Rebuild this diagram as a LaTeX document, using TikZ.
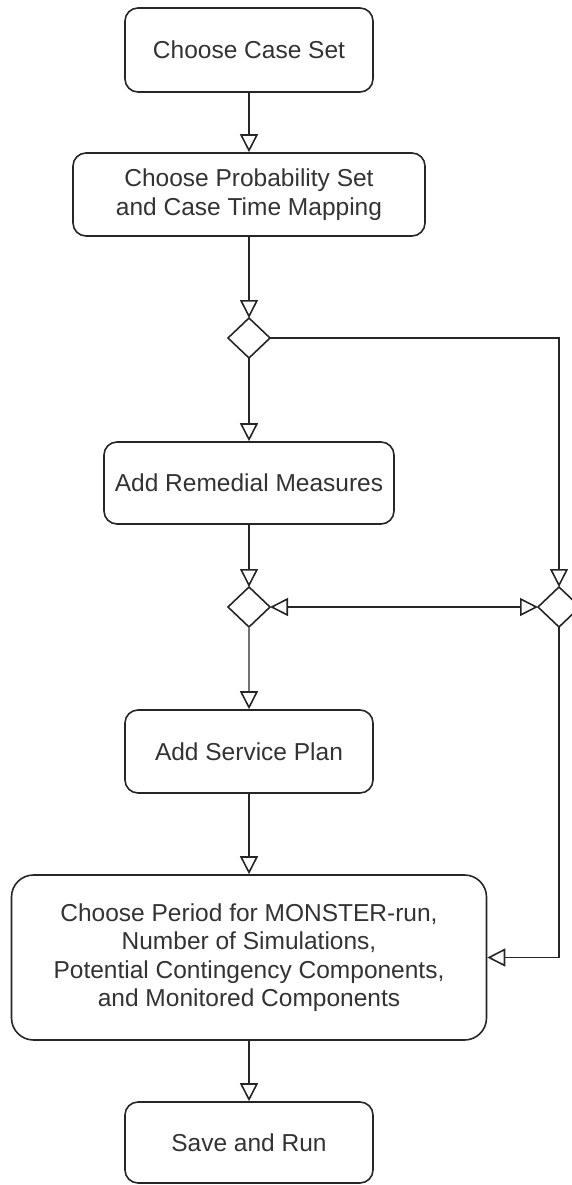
\documentclass[tikz,border=0pt]{standalone}
\usepackage{fontspec}
\setmainfont{Liberation Sans}
\usetikzlibrary{arrows.meta,shapes.geometric}
\begin{document}
\begin{tikzpicture}[x=1pt,y=-1pt,
  box/.style={draw=black!85, line width=1.6pt, rounded corners=13pt, align=center,
    font=\fontsize{24.5}{28.5}\selectfont, text=black!80, inner sep=0pt, fill=white},
  dia/.style={draw=black!85, line width=1.6pt, diamond, minimum width=42pt,
    minimum height=40pt, inner sep=0pt, outer sep=0pt, fill=white},
  flow/.style={draw=black!85, line width=1.6pt, -{Triangle[open,length=18pt,width=18pt]}},
  both/.style={draw=black!85, line width=1.6pt, {Triangle[open,length=18pt,width=18pt]}-{Triangle[open,length=18pt,width=18pt]}},
  grayflow/.style={draw=black!55, line width=2.8pt, -{Triangle[open,length=18pt,width=18pt,color=black!85,line width=1.6pt]}},
]
\useasboundingbox (0,0) rectangle (572,1185);
\node[box, minimum width=248pt, minimum height=84pt] (b1) at (249,50) {Choose Case Set};
\node[box, minimum width=352pt, minimum height=83pt] (b2) at (249,194.5) {Choose Probability Set\\and Case Time Mapping};
\node[dia] (d1) at (249,338) {};
\node[box, minimum width=290pt, minimum height=82pt] (b3) at (249,483) {Add Remedial Measures};
\node[dia] (d2) at (249,607) {};
\node[dia] (d3) at (559,607) {};
\node[box, minimum width=248pt, minimum height=83pt] (b4) at (249,751.5) {Add Service Plan};
\node[box, minimum width=475pt, minimum height=165pt, rounded corners=22pt] (b5) at (249,957.5)
  {Choose Period for MONSTER-run,\\Number of Simulations,\\Potential Contingency Components,\\and Monitored Components};
\node[box, minimum width=248pt, minimum height=81pt] (b6) at (249,1142.5) {Save and Run};

\draw[flow] (b1.south) -- (b2.north);
\draw[flow] (b2.south) -- (d1.north);
\draw[flow] (d1.south) -- (b3.north);
\draw[flow] (b3.south) -- (d2.north);
\draw[flow] (d1.east) -| (d3.north);
\draw[both] (d2.east) -- (d3.west);
\draw[grayflow] (d2.south) -- (b4.north);
\draw[flow] (b4.south) -- (b5.north);
\draw[flow] (d3.south) |- (b5.east);
\draw[flow] (b5.south) -- (b6.north);
\end{tikzpicture}
\end{document}
